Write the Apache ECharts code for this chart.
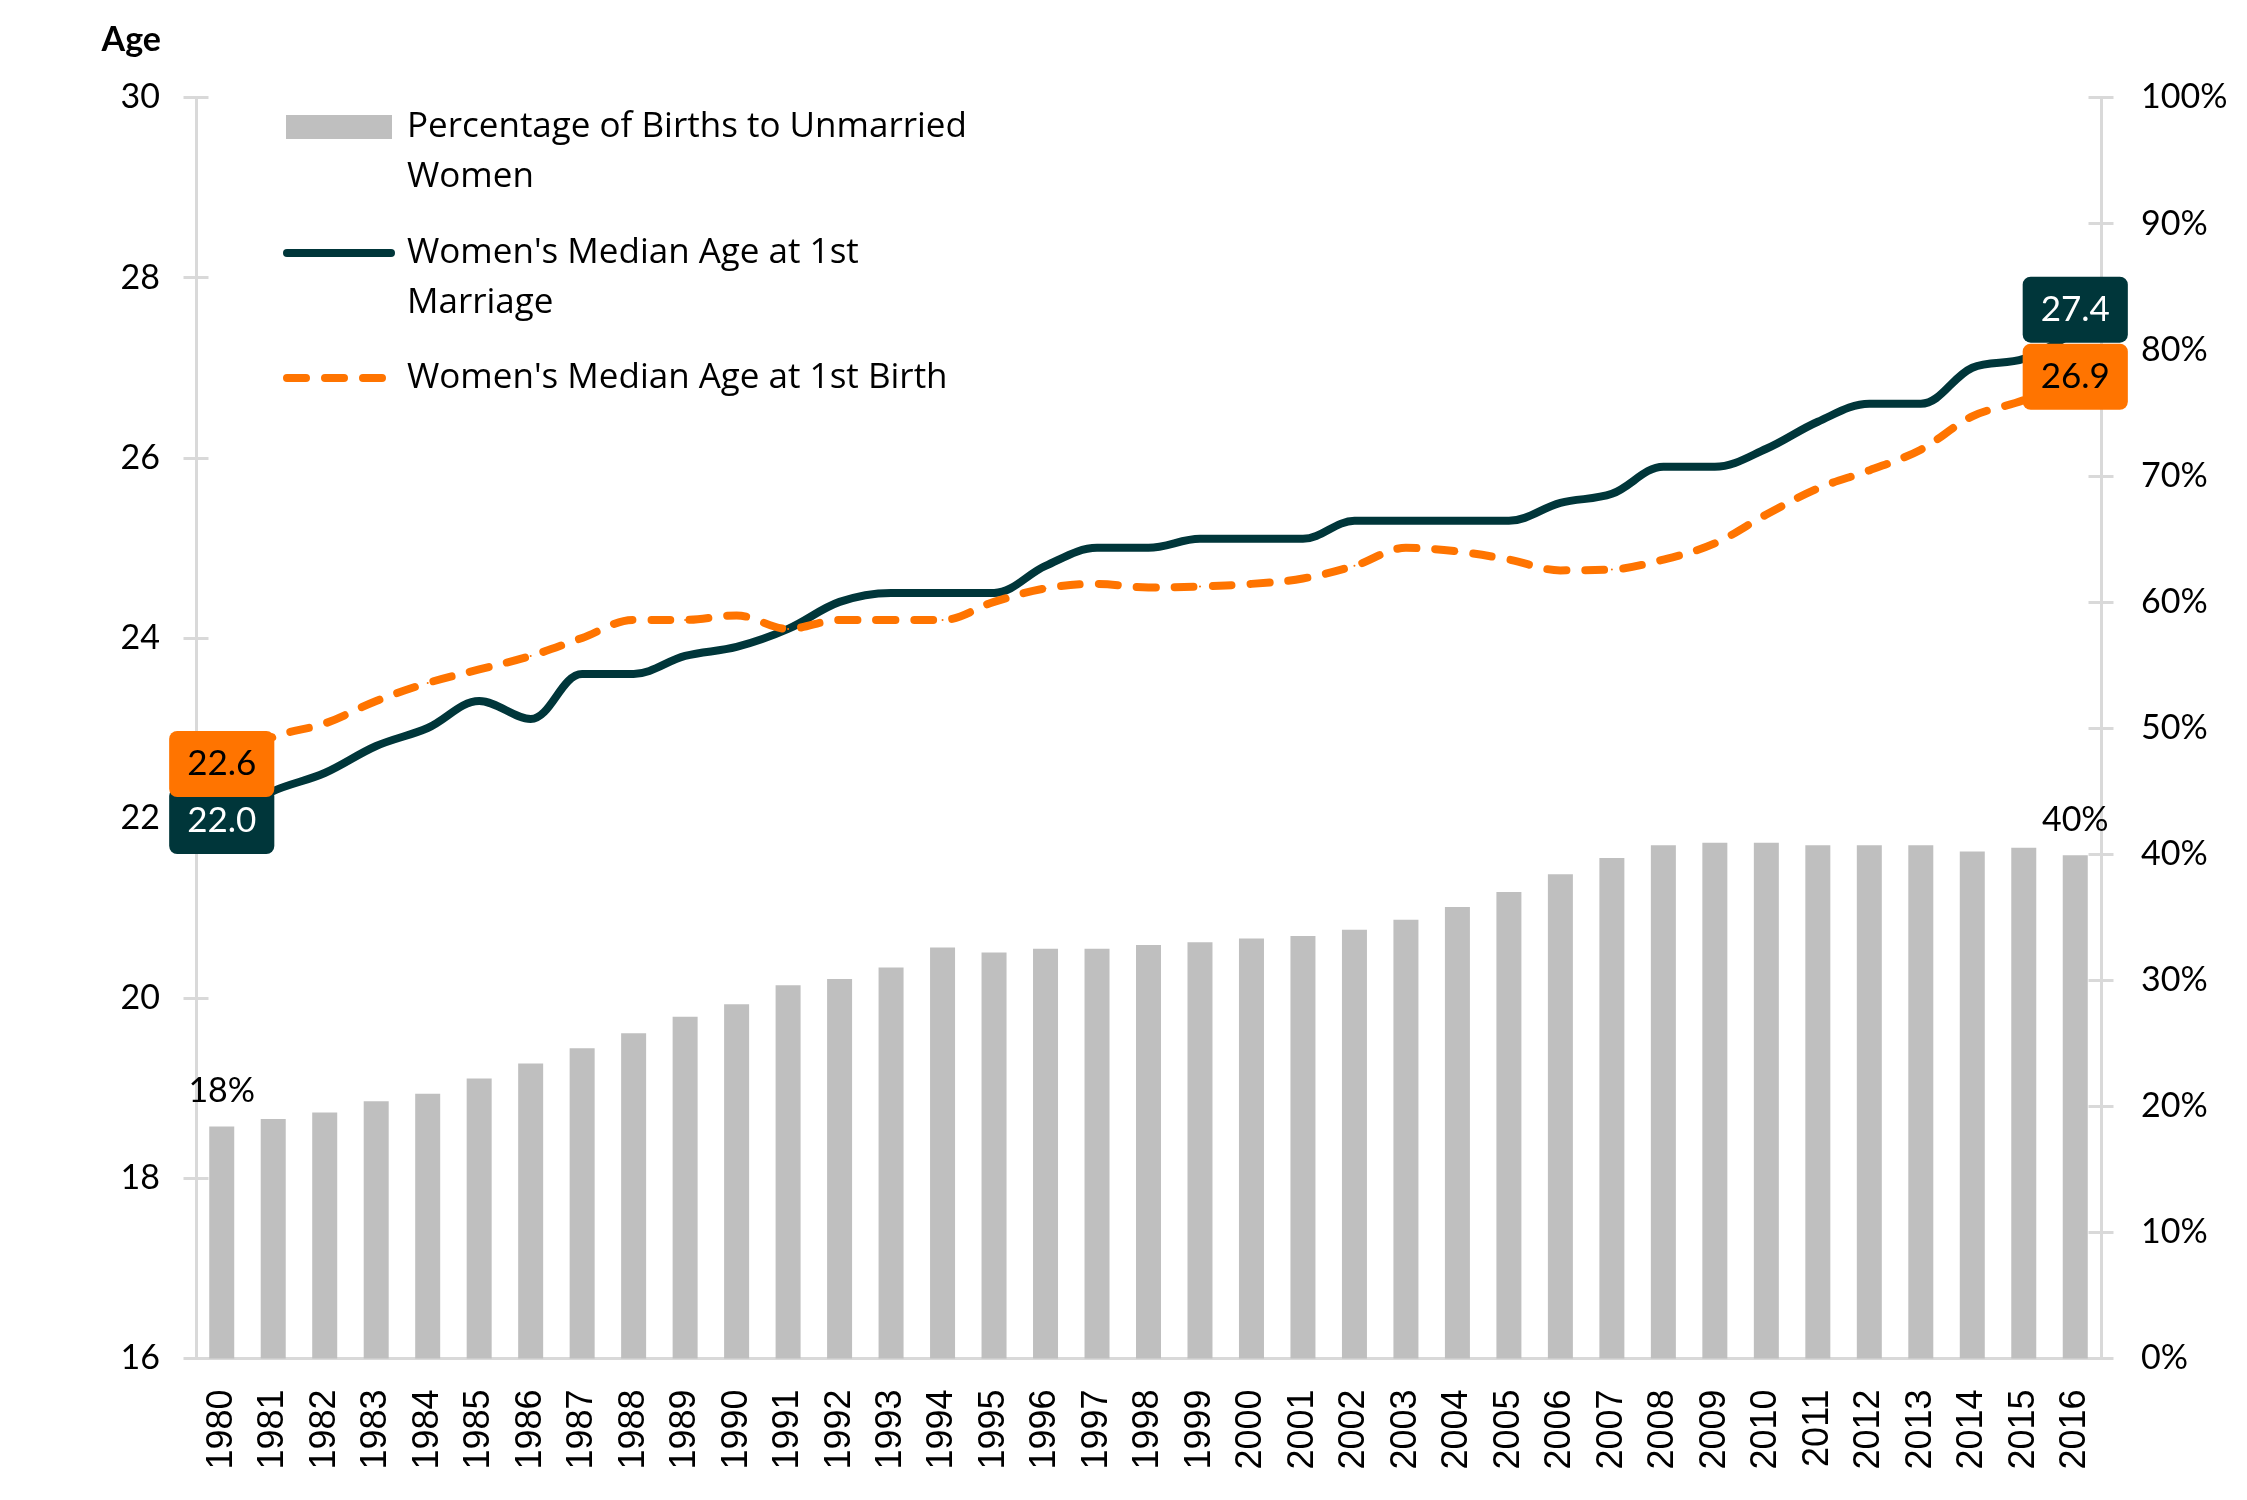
<!DOCTYPE html>
<html>
<head>
<meta charset="utf-8">
<script src="https://cdn.jsdelivr.net/npm/echarts@6/dist/echarts.min.js"></script>
<style>
  html, body { margin: 0; padding: 0; background: #ffffff; }
  #chart { width: 2247px; height: 1500px; }
</style>
</head>
<body>
<div id="chart"></div>
<script>
const years = ['1980','1981','1982','1983','1984','1985','1986','1987','1988','1989','1990','1991','1992','1993','1994','1995','1996','1997','1998','1999','2000','2001','2002','2003','2004','2005','2006','2007','2008','2009','2010','2011','2012','2013','2014','2015','2016'];

const unmarriedPct = [18.4, 19.0, 19.5, 20.4, 21.0, 22.2, 23.4, 24.6, 25.8, 27.1, 28.1, 29.6, 30.1, 31.0, 32.6, 32.2, 32.5, 32.5, 32.8, 33.0, 33.3, 33.5, 34.0, 34.8, 35.8, 37.0, 38.4, 39.7, 40.7, 40.9, 40.9, 40.7, 40.7, 40.7, 40.2, 40.5, 39.9];

const ageMarriage = [22.0, 22.3, 22.5, 22.8, 23.0, 23.3, 23.1, 23.6, 23.6, 23.8, 23.9, 24.1, 24.4, 24.5, 24.5, 24.5, 24.8, 25.0, 25.0, 25.1, 25.1, 25.1, 25.3, 25.3, 25.3, 25.3, 25.5, 25.6, 25.9, 25.9, 26.1, 26.4, 26.6, 26.6, 27.0, 27.1, 27.4];

const ageBirth = [22.6, 22.9, 23.05, 23.3, 23.5, 23.65, 23.8, 24.0, 24.2, 24.2, 24.25, 24.1, 24.2, 24.2, 24.2, 24.4, 24.55, 24.6, 24.56, 24.57, 24.6, 24.66, 24.8, 25.0, 24.96, 24.87, 24.75, 24.76, 24.87, 25.05, 25.37, 25.66, 25.86, 26.09, 26.46, 26.64, 26.9];

const seriesNames = ['Percentage of Births to Unmarried Women', "Women's Median Age at 1st Marriage", "Women's Median Age at 1st Birth"];
const legendLabels = ['\nPercentage of Births to Unmarried\nWomen', "\nWomen's Median Age at 1st\nMarriage", "Women's Median Age at 1st Birth"];

const C_BAR = '#bfbfbf';
const C_DARK = '#00363a';
const C_ORANGE = '#ff7400';
const C_AXIS = '#d9d9d9';
const FONT = 'Lato';
const LEGEND_FONT = 'Open Sans';

const last = years.length - 1;

function lineLabel(bg, fg, offset) {
  return {
    show: true,
    position: 'inside',
    formatter: p => Number(p.value).toFixed(1),
    backgroundColor: bg,
    color: fg,
    fontFamily: FONT,
    fontSize: 35,
    lineHeight: 36,
    padding: [15, 18, 15, 18],
    borderRadius: 8,
    offset: offset || [0, 0]
  };
}

const barData = unmarriedPct.map((v, i) => (i === 0 || i === last) ? {
  value: v,
  label: {
    show: true, position: 'top', distance: 18,
    formatter: p => Math.round(p.value) + '%',
    color: '#000', fontFamily: FONT, fontSize: 34
  }
} : v);

const marriageData = ageMarriage.map((v, i) => i === 0 ? {value: v, label: lineLabel(C_DARK, '#fff', [0, 3])}
  : i === last ? {value: v, label: lineLabel(C_DARK, '#fff', [0, -22])} : v);
const birthData = ageBirth.map((v, i) => (i === 0 || i === last) ? {value: v, label: lineLabel(C_ORANGE, '#000')} : v);

const legendText = {
  fontFamily: LEGEND_FONT, fontSize: 35, color: '#000', lineHeight: 50,
  backgroundColor: 'transparent'
};

const dashIcon = 'path://M4,0H23A4,4 0 0 1 23,8H4A4,4 0 0 1 4,0Z M42,0H61A4,4 0 0 1 61,8H42A4,4 0 0 1 42,0Z M80,0H99A4,4 0 0 1 99,8H80A4,4 0 0 1 80,0Z';
const solidIcon = 'path://M4,0H108A4,4 0 0 1 108,8H4A4,4 0 0 1 4,0Z';

const chart = echarts.init(document.getElementById('chart'), null, {renderer: 'canvas'});

const axisLineStyle = {color: C_AXIS, width: 3};

const option = {
  backgroundColor: '#ffffff',
  animation: false,
  grid: {left: 196, right: 146, top: 97.5, bottom: 141.5, containLabel: false, outerBoundsMode: 'none'},
  legend: [
    {
      data: [{name: seriesNames[0], icon: 'rect'}],
      left: 286, top: 52, padding: 0, itemWidth: 106, itemHeight: 24,
      selectedMode: false,
      itemStyle: {borderWidth: 0},
      formatter: () => legendLabels[0],
      textStyle: Object.assign({}, legendText, {padding: [0, 0, 0, 10]})
    },
    {
      data: [{name: seriesNames[1], icon: solidIcon}],
      left: 283, top: 178, padding: 0, itemWidth: 112, itemHeight: 8,
      selectedMode: false,
      itemStyle: {borderWidth: 0},
      formatter: () => legendLabels[1],
      textStyle: Object.assign({}, legendText, {padding: [0, 0, 0, 7]})
    },
    {
      data: [{name: seriesNames[2], icon: dashIcon}],
      left: 283, top: 353, padding: 0, itemWidth: 103, itemHeight: 8,
      selectedMode: false,
      itemStyle: {borderWidth: 0},
      formatter: () => legendLabels[2],
      textStyle: Object.assign({}, legendText, {padding: [0, 0, 0, 16]})
    }
  ],
  xAxis: {
    type: 'category',
    data: years,
    boundaryGap: true,
    axisLine: {show: true, lineStyle: axisLineStyle},
    axisTick: {show: false},
    axisLabel: {
      interval: 0, rotate: 90, margin: 31,
      fontFamily: 'Liberation Sans', fontSize: 36, color: '#000'
    },
    splitLine: {show: false}
  },
  yAxis: [
    {
      type: 'value', position: 'left', min: 16, max: 30, interval: 2,
      name: 'Age', nameLocation: 'end', nameGap: 40,
      nameTextStyle: {fontFamily: FONT, fontWeight: 'bold', fontSize: 34, color: '#000', align: 'right', padding: [0, 35, 0, 0]},
      axisLine: {show: true, lineStyle: axisLineStyle},
      axisTick: {show: true, inside: false, length: 12.5, lineStyle: axisLineStyle},
      axisLabel: {margin: 36, fontFamily: FONT, fontSize: 34, color: '#000'},
      splitLine: {show: false}
    },
    {
      type: 'value', position: 'right', min: 0, max: 100, interval: 10,
      axisLine: {show: true, lineStyle: axisLineStyle},
      axisTick: {show: true, inside: false, length: 12.5, lineStyle: axisLineStyle},
      axisLabel: {margin: 40, fontFamily: FONT, fontSize: 34, color: '#000', formatter: '{value}%'},
      splitLine: {show: false}
    },
    {
      type: 'value', position: 'left', min: 16, max: 30, interval: 2,
      axisLine: {show: false},
      axisTick: {show: true, inside: true, length: 12.5, lineStyle: axisLineStyle},
      axisLabel: {show: false},
      splitLine: {show: false}
    },
    {
      type: 'value', position: 'right', min: 0, max: 100, interval: 10,
      axisLine: {show: false},
      axisTick: {show: true, inside: true, length: 12.5, lineStyle: axisLineStyle},
      axisLabel: {show: false},
      splitLine: {show: false}
    }
  ],
  series: [
    {
      name: seriesNames[0],
      type: 'bar',
      yAxisIndex: 1,
      data: barData,
      barWidth: 25,
      itemStyle: {color: C_BAR},
      z: 1
    },
    {
      name: seriesNames[1],
      type: 'line',
      yAxisIndex: 0,
      data: marriageData,
      smooth: 0.35,
      symbol: 'circle',
      symbolSize: 2,
      showSymbol: true,
      itemStyle: {color: C_DARK, borderWidth: 0},
      lineStyle: {color: C_DARK, width: 8, cap: 'round', join: 'round'},
      z: 3
    },
    {
      name: seriesNames[2],
      type: 'line',
      yAxisIndex: 0,
      data: birthData,
      smooth: 0.35,
      symbol: 'circle',
      symbolSize: 2,
      showSymbol: true,
      itemStyle: {color: C_ORANGE, borderWidth: 0},
      lineStyle: {color: C_ORANGE, width: 8, type: [19, 19], cap: 'round', join: 'round'},
      z: 4
    }
  ]
};

chart.setOption(option);
</script>
</body>
</html>
